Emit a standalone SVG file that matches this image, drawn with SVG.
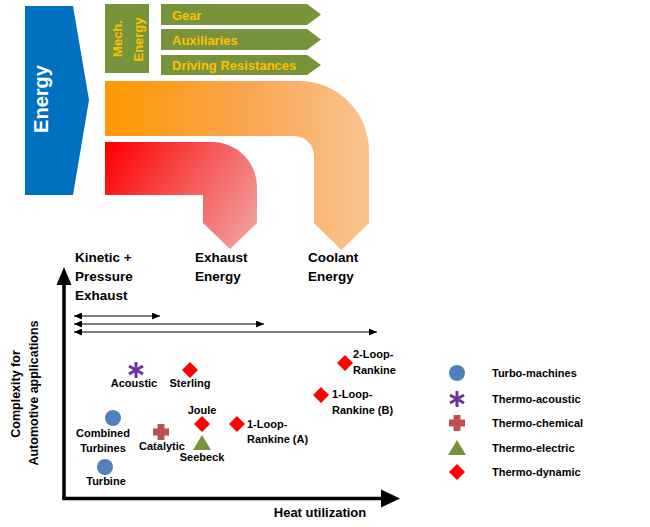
<svg xmlns="http://www.w3.org/2000/svg" width="650" height="527" viewBox="0 0 650 527">
<defs>
<linearGradient id="gOrange" gradientUnits="userSpaceOnUse" x1="105" y1="0" x2="369" y2="0">
<stop offset="0" stop-color="#FF9800"/>
<stop offset="0.55" stop-color="#F9A651"/>
<stop offset="1" stop-color="#FAC391"/>
</linearGradient>
<linearGradient id="gRed" gradientUnits="userSpaceOnUse" x1="110" y1="142" x2="262" y2="240">
<stop offset="0" stop-color="#FF0000"/>
<stop offset="0.45" stop-color="#F65050"/>
<stop offset="1" stop-color="#F0A8A4"/>
</linearGradient>
<marker id="ah" markerUnits="userSpaceOnUse" markerWidth="9" markerHeight="7" refX="8" refY="3.5" orient="auto-start-reverse">
<path d="M0,0 L8,3.5 L0,7 Z" fill="#000"/>
</marker>
<g id="asterisk">
<line x1="0" y1="-8" x2="0" y2="8"/>
<line x1="-7" y1="-4" x2="7" y2="4"/>
<line x1="-7" y1="4" x2="7" y2="-4"/>
</g>
<path id="diamond" d="M0,-8 L8,0 L0,8 L-8,0 Z"/>
<path id="cross" d="M-3.5,-8 H3.5 V-3.5 H8 V3.5 H3.5 V8 H-3.5 V3.5 H-8 V-3.5 H-3.5 Z"/>
<path id="triangle" d="M0,-8 L9,7 L-9,7 Z"/>
</defs>
<style>
.flow{font-family:"Liberation Sans",Arial,sans-serif;font-weight:bold;fill:#FFC000;font-size:13px}
.lbl{font-family:"Liberation Sans",Arial,sans-serif;font-weight:bold;fill:#000;font-size:11px}
.big{font-family:"Liberation Sans",Arial,sans-serif;font-weight:bold;fill:#000;font-size:13.5px}
.axlbl{font-family:"Liberation Sans",Arial,sans-serif;font-weight:bold;fill:#000;font-size:12.5px}
.green{fill:#77933C}
.turbo{fill:#4F81BD}
.acou{stroke:#7030A0;stroke-width:3;stroke-linecap:butt;fill:none}
.chem{fill:#C0504D}
.dyn{fill:#FF0000}
.dbl{stroke:#000;stroke-width:1.2;marker-start:url(#ah);marker-end:url(#ah)}
</style>

<g id="energy">
<polygon points="25,6 73,6 89,100 73,195 25,195" fill="#0070C0"/>
<text transform="translate(48,99) rotate(-90)" text-anchor="middle" font-family="Liberation Sans, Arial, sans-serif" font-weight="bold" font-size="20" fill="#FFFFFF">Energy</text>
</g>

<g id="mech-energy">
<rect x="105" y="4" width="44" height="69" class="green"/>
<text transform="translate(121.5,38.5) rotate(-90)" text-anchor="middle" class="flow">Mech.</text>
<text transform="translate(142.5,39.5) rotate(-90)" text-anchor="middle" class="flow">Energy</text>
</g>

<g id="gear">
<polygon points="161,4 307,4 321,14.5 307,25 161,25" class="green"/>
<text x="172" y="19.5" class="flow">Gear</text>
</g>
<g id="auxiliaries">
<polygon points="161,29 307,29 321,39.5 307,50 161,50" class="green"/>
<text x="172" y="45" class="flow">Auxiliaries</text>
</g>
<g id="driving-resistances">
<polygon points="161,55 307,55 321,65 307,75 161,75" class="green"/>
<text x="172" y="69.5" class="flow">Driving Resistances</text>
</g>

<g id="coolant-flow">
<path d="M105,81 H299 A70,70 0 0 1 369,151 V223 L341.5,250 L314,223 V156 A20,20 0 0 0 294,136 H105 Z" fill="url(#gOrange)"/>
</g>
<g id="exhaust-flow">
<path d="M105,142 H212 A45,45 0 0 1 257,187 V223 L230,249 L203,223 V195 H105 Z" fill="url(#gRed)"/>
</g>

<g id="kinetic-label">
<text class="big" x="75" y="262">Kinetic +</text>
<text class="big" x="75" y="281">Pressure</text>
<text class="big" x="75" y="300">Exhaust</text>
</g>
<g id="exhaust-label">
<text class="big" x="195" y="262">Exhaust</text>
<text class="big" x="195" y="281">Energy</text>
</g>
<g id="coolant-label">
<text class="big" x="308" y="262">Coolant</text>
<text class="big" x="308" y="281">Energy</text>
</g>

<g id="axes">
<line x1="64" y1="282" x2="64" y2="500" stroke="#000" stroke-width="3.5"/>
<polygon points="64,267 71.5,285 56.5,285" fill="#000"/>
<line x1="62.3" y1="498.5" x2="384" y2="498.5" stroke="#000" stroke-width="3.5"/>
<polygon points="400,498.5 381,489.5 381,507.5" fill="#000"/>
<text class="axlbl" transform="translate(19.5,394) rotate(-90)" text-anchor="middle">Complexity for</text>
<text class="axlbl" transform="translate(37.5,393) rotate(-90)" text-anchor="middle">Automotive applications</text>
<text x="320" y="517" text-anchor="middle" font-family="Liberation Sans, Arial, sans-serif" font-weight="bold" font-size="13">Heat utilization</text>
</g>

<g id="connectors">
<line class="dbl" x1="74" y1="316" x2="160" y2="316"/>
<line class="dbl" x1="74" y1="324" x2="264" y2="324"/>
<line class="dbl" x1="74" y1="332" x2="377" y2="332"/>
</g>

<g id="acoustic">
<use href="#asterisk" x="136" y="370" class="acou"/>
<text class="lbl" x="134" y="387" text-anchor="middle">Acoustic</text>
</g>
<g id="sterling">
<use href="#diamond" x="190" y="370" class="dyn"/>
<text class="lbl" x="190" y="387" text-anchor="middle">Sterling</text>
</g>
<g id="combined-turbines">
<circle cx="113" cy="418" r="8" class="turbo"/>
<text class="lbl" x="103" y="437" text-anchor="middle">Combined</text>
<text class="lbl" x="103" y="452" text-anchor="middle">Turbines</text>
</g>
<g id="turbine">
<circle cx="105" cy="467" r="8" class="turbo"/>
<text class="lbl" x="106" y="485" text-anchor="middle">Turbine</text>
</g>
<g id="catalytic">
<use href="#cross" x="161" y="432" class="chem"/>
<text class="lbl" x="162" y="450" text-anchor="middle">Catalytic</text>
</g>
<g id="joule">
<use href="#diamond" x="202" y="424" class="dyn"/>
<text class="lbl" x="202" y="414" text-anchor="middle">Joule</text>
</g>
<g id="seebeck">
<use href="#triangle" x="202" y="443" class="green"/>
<text class="lbl" x="202" y="461" text-anchor="middle">Seebeck</text>
</g>
<g id="rankine-1a">
<use href="#diamond" x="237" y="424" class="dyn"/>
<text class="lbl" x="247" y="428">1-Loop-</text>
<text class="lbl" x="247" y="443">Rankine (A)</text>
</g>
<g id="rankine-1b">
<use href="#diamond" x="321" y="395" class="dyn"/>
<text class="lbl" x="332" y="398">1-Loop-</text>
<text class="lbl" x="332" y="414">Rankine (B)</text>
</g>
<g id="rankine-2">
<use href="#diamond" x="345" y="363" class="dyn"/>
<text class="lbl" x="353" y="358">2-Loop-</text>
<text class="lbl" x="353" y="374">Rankine</text>
</g>

<g id="legend">
<circle cx="457" cy="373" r="8" class="turbo"/>
<text class="lbl" x="492" y="377">Turbo-machines</text>
<use href="#asterisk" x="457" y="399" class="acou"/>
<text class="lbl" x="492" y="403">Thermo-acoustic</text>
<use href="#cross" x="457" y="423" class="chem"/>
<text class="lbl" x="492" y="427">Thermo-chemical</text>
<use href="#triangle" x="457" y="448" class="green"/>
<text class="lbl" x="492" y="452">Thermo-electric</text>
<use href="#diamond" x="457" y="472" class="dyn"/>
<text class="lbl" x="492" y="476">Thermo-dynamic</text>
</g>
</svg>
